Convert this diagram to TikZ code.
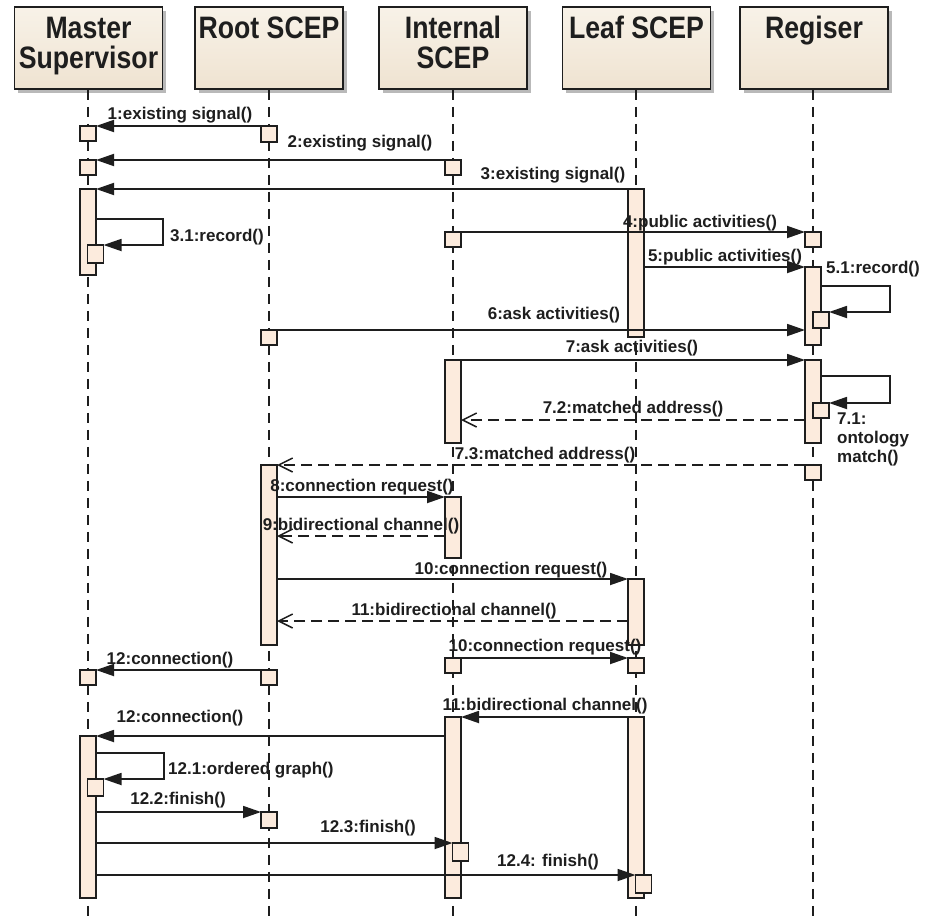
\documentclass[tikz,border=0pt]{standalone}
\usepackage{fontspec}
\setmainfont{Liberation Sans}
\newfontfamily\headfont[FakeStretch=0.86]{Liberation Sans}
\usetikzlibrary{arrows.meta,shadows,calc}
\definecolor{ink}{HTML}{1E1E1E}
\definecolor{actfill}{HTML}{FCEBDD}
\definecolor{headtop}{HTML}{F8F2E8}
\definecolor{headbot}{HTML}{EFE3D1}
\tikzset{
 head/.style={draw=ink, line width=1.7pt, minimum width=148pt, minimum height=82pt, top color=headtop, bottom color=headbot, drop shadow={shadow xshift=3.5pt, shadow yshift=-3.5pt, fill=black!50, opacity=0.55}, inner sep=0},
 headtxt/.style={font=\headfont\fontsize{31}{30}\selectfont\bfseries, align=center, inner sep=0, text=ink},
 life/.style={draw=ink, line width=1.7pt, dash pattern=on 10pt off 7pt},
 act/.style={draw=ink, fill=actfill, line width=1.6pt, minimum width=16pt, inner sep=0, outer sep=0},
 msg/.style={draw=ink, line width=1.8pt, -{Triangle[length=18pt,width=12pt]}},
 reply/.style={draw=ink, line width=1.8pt, dash pattern=on 11pt off 6pt, -{Straight Barb[length=14pt,width=14pt,line width=1.5pt]}},
 lbl/.style={font=\fontsize{17}{19}\selectfont\bfseries, inner sep=0, text=ink},
}
\newcommand\actbox[4]{\node[act,minimum height={(#4-#3)*1pt}] (#1) at (#2,{(#3+#4)/2}) {};}
\begin{document}
\begin{tikzpicture}[x=1pt,y=-1pt]
\useasboundingbox (0,0) rectangle (931,916);
\fill[white] (0,0) rectangle (931,916);
% heads
\node[head] (hM) at (88.5,48) {};
\node[head] (hR) at (269,48) {};
\node[head] (hI) at (453,48) {};
\node[head] (hL) at (636.5,48) {};
\node[head] (hG) at (814,48) {};
\node[headtxt] (tM) at (88.5,46) {Master\\Supervisor};
\node[headtxt] (tR) at (269,28) {Root SCEP};
\node[headtxt] (tI) at (453,42) {Internal\\SCEP};
\node[headtxt] (tL) at (636.5,27) {Leaf SCEP};
\node[headtxt] (tG) at (814,31) {Regiser};
% lifelines
\coordinate (eM) at (88,916);
\coordinate (eR) at (269,916);
\coordinate (eI) at (453,916);
\coordinate (eL) at (636,916);
\coordinate (eG) at (813,916);
\draw[life] (hM.south -| eM) -- (eM);
\draw[life] (hR.south -| eR) -- (eR);
\draw[life] (hI.south -| eI) -- (eI);
\draw[life] (hL.south -| eL) -- (eL);
\draw[life] (hG.south -| eG) -- (eG);
% activations
\actbox{mA1}{88}{126}{141}
\actbox{mA2}{88}{160}{175}
\actbox{mA3}{88}{189}{275}
\actbox{mA3n}{95.5}{245}{263}
\actbox{mA4}{88}{670}{685}
\actbox{mA5}{88}{736}{898}
\actbox{mA5n}{95.5}{779}{796}
\actbox{rA1}{269}{126}{142}
\actbox{rA2}{269}{330}{345}
\actbox{rA3}{269}{465}{645}
\actbox{rA4}{269}{670}{685}
\actbox{rA5}{269}{812}{828}
\actbox{iA1}{453}{160}{175}
\actbox{iA2}{453}{232}{247}
\actbox{iA3}{453}{360}{443}
\actbox{iA4}{453}{497}{558}
\actbox{iA5}{453}{658}{673}
\actbox{iA6}{453}{717}{898}
\actbox{iA6n}{460.5}{843}{861}
\actbox{lA1}{636}{189}{337}
\actbox{lA2}{636}{579}{645}
\actbox{lA3}{636}{658}{673}
\actbox{lA4}{636}{717}{898}
\actbox{lA4n}{643.5}{875}{893}
\actbox{gA1}{813}{232}{247}
\actbox{gA2}{813}{267}{345}
\actbox{gA2n}{821}{312}{328}
\actbox{gA3}{813}{360}{443}
\actbox{gA3n}{821}{403}{418}
\actbox{gA4}{813}{465}{480}
% messages
\draw[msg] (rA1.north west) -- (mA1.north east);
\draw[msg] (iA1.north west) -- (mA2.north east);
\draw[msg] (lA1.north west) -- (mA3.north east);
\draw[msg] (mA3.east |- 0,219) -- (163,219) -- (163,245) -- (mA3n.north east);
\draw[msg] (iA2.north east) -- (gA1.north west);
\draw[msg] (lA1.east |- gA2.north) -- (gA2.north west);
\draw[msg] (gA2.east |- 0,286) -- (890,286) -- (890,312) -- (gA2n.north east);
\draw[msg] (rA2.north east) -- (gA2.west |- rA2.north east);
\draw[msg] (iA3.north east) -- (gA3.north west);
\draw[msg] (gA3.east |- 0,376) -- (890,376) -- (890,403) -- (gA3n.north east);
\draw[reply] (gA3.west |- 0,420) -- (iA3.east |- 0,420);
\draw[reply] (gA4.north west) -- (rA3.north east);
\draw[msg] (rA3.east |- iA4.north) -- (iA4.north west);
\draw[reply] (iA4.west |- 0,536) -- (rA3.east |- 0,536);
\draw[msg] (rA3.east |- lA2.north) -- (lA2.north west);
\draw[reply] (lA2.west |- 0,621) -- (rA3.east |- 0,621);
\draw[msg] (iA5.north east) -- (lA3.north west);
\draw[msg] (rA4.north west) -- (mA4.north east);
\draw[msg] (lA4.north west) -- (iA6.north east);
\draw[msg] (iA6.west |- mA5.north) -- (mA5.north east);
\draw[msg] (mA5.east |- 0,753) -- (164,753) -- (164,779) -- (mA5n.north east);
\draw[msg] (mA5.east |- rA5.north) -- (rA5.north west);
\draw[msg] (mA5.east |- iA6n.north) -- (iA6n.north west);
\draw[msg] (mA5.east |- lA4n.north) -- (lA4n.north west);
% labels
\node[lbl] (l1) at (180,115) {1:existing signal()};
\node[lbl] (l2) at (360,143) {2:existing signal()};
\node[lbl] (l3) at (553,175) {3:existing signal()};
\node[lbl,anchor=west] (l31) at (170,237) {3.1:record()};
\node[lbl] (l4) at (700,223) {4:public activities()};
\node[lbl] (l5) at (725,257) {5:public activities()};
\node[lbl,anchor=west] (l51) at (826,269) {5.1:record()};
\node[lbl] (l6) at (554,315) {6:ask activities()};
\node[lbl] (l7) at (632,348) {7:ask activities()};
\node[lbl,anchor=north west,align=left,font=\fontsize{17}{19}\selectfont\bfseries] (l71) at (837,413) {7.1:\\ontology\\match()};
\node[lbl] (l72) at (633,409) {7.2:matched address()};
\node[lbl] (l73) at (545,455) {7.3:matched address()};
\node[lbl] (l8) at (362,487) {8:connection request()};
\node[lbl] (l9) at (361,526) {9:bidirectional channel()};
\node[lbl] (l10) at (511,570) {10:connection request()};
\node[lbl] (l11) at (454,611) {11:bidirectional channel()};
\node[lbl] (l10b) at (545,647) {10:connection request()};
\node[lbl] (l12) at (170,660) {12:connection()};
\node[lbl] (l11b) at (545,706) {11:bidirectional channel()};
\node[lbl] (l12b) at (180,718) {12:connection()};
\node[lbl,anchor=west] (l121) at (168,770) {12.1:ordered graph()};
\node[lbl] (l122) at (178,800) {12.2:finish()};
\node[lbl] (l123) at (368,828) {12.3:finish()};
\node[lbl] (l124) at (548,862) {12.4: finish()};
\end{tikzpicture}
\end{document}
